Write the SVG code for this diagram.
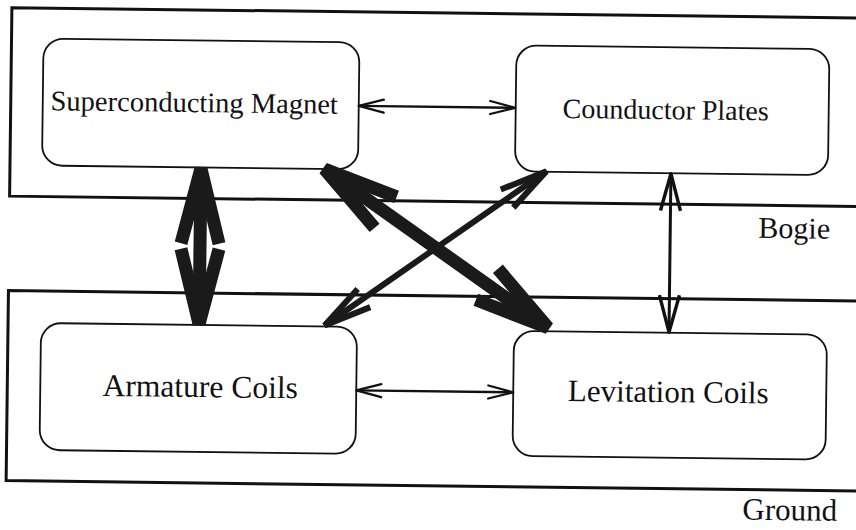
<svg xmlns="http://www.w3.org/2000/svg" width="856" height="530" viewBox="0 0 856 530">
  <style>
    .frame { fill: none; stroke: #111; stroke-width: 3; }
    .box { fill: #fff; stroke: #111; stroke-width: 1.8; }
    .label { font-family: "Liberation Serif", "Times New Roman", serif; fill: #111; text-anchor: middle; }
    .thin { stroke: #111; stroke-width: 2.3; fill: none; }
    .vert { stroke: #111; stroke-width: 3; fill: none; }
    .mid { stroke: #1a1a1a; stroke-width: 6; fill: none; }
    .thick { stroke: #1a1a1a; stroke-width: 13; fill: none; }
    .head-thin { fill: none; stroke: #111; stroke-width: 2.3; stroke-linejoin: round; stroke-linecap: round; }
    .head-vert { fill: none; stroke: #111; stroke-width: 3.4; stroke-linejoin: round; }
    .head-mid { fill: none; stroke: #1a1a1a; stroke-width: 6; stroke-linejoin: bevel; }
    .head-thick { fill: none; stroke: #1a1a1a; stroke-width: 13; stroke-linejoin: bevel; }
  </style>
  <defs>
    <marker id="arrow-thin" markerUnits="userSpaceOnUse" orient="auto-start-reverse" overflow="visible" markerWidth="1" markerHeight="1" refX="0" refY="0">
      <path class="head-thin" d="M -25 -6.5 L 0 0 L -25 6.5"/>
    </marker>
    <marker id="arrow-vert" markerUnits="userSpaceOnUse" orient="auto-start-reverse" overflow="visible" markerWidth="1" markerHeight="1" refX="0" refY="0">
      <path class="head-vert" d="M -37 -10 L 0 0 L -37 10"/>
    </marker>
    <marker id="arrow-mid" markerUnits="userSpaceOnUse" orient="auto-start-reverse" overflow="visible" markerWidth="1" markerHeight="1" refX="0" refY="0">
      <path class="head-mid" d="M -48 -11 L 0 0 L -48 11"/>
    </marker>
    <marker id="arrow-thick" markerUnits="userSpaceOnUse" orient="auto-start-reverse" overflow="visible" markerWidth="1" markerHeight="1" refX="0" refY="0">
      <path class="head-thick" d="M -75 -19 L 0 0 L -75 19"/>
    </marker>
  </defs>
  <rect x="0" y="0" width="856" height="530" fill="#fff"/>
  <g transform="rotate(0.7)">
    <!-- vehicle and track zones -->
    <g id="bogie-zone">
      <path class="frame" d="M 880 7.5 H 12 V 196 H 880"/>
      <text class="label" x="797" y="228.5" font-size="30">Bogie</text>
    </g>
    <g id="ground-zone">
      <path class="frame" d="M 880 290.5 H 12 V 480.5 H 880"/>
      <text class="label" x="796" y="510.5" font-size="31">Ground</text>
    </g>

    <!-- components -->
    <g id="superconducting-magnet">
      <rect class="box" x="44" y="38" width="316" height="127" rx="20"/>
      <text class="label" x="195.5" y="109.6" font-size="28.5">Superconducting Magnet</text>
    </g>
    <g id="conductor-plates">
      <rect class="box" x="517" y="39" width="313" height="126" rx="20"/>
      <text class="label" x="667" y="111" font-size="28">Counductor Plates</text>
    </g>
    <g id="armature-coils">
      <rect class="box" x="45" y="322.5" width="316" height="127" rx="20"/>
      <text class="label" x="205" y="394.6" font-size="31.5">Armature Coils</text>
    </g>
    <g id="levitation-coils">
      <rect class="box" x="518" y="324.5" width="313" height="125" rx="20"/>
      <text class="label" x="673" y="394" font-size="31">Levitation Coils</text>
    </g>

    <!-- interactions -->
    <g id="connectors">
      <line class="thin" x1="360" y1="101.5" x2="516.5" y2="101.5" marker-start="url(#arrow-thin)" marker-end="url(#arrow-thin)"/>
      <line class="thin" x1="361" y1="386" x2="518" y2="386" marker-start="url(#arrow-thin)" marker-end="url(#arrow-thin)"/>
      <line class="vert" x1="673" y1="165.5" x2="673" y2="324" marker-start="url(#arrow-vert)" marker-end="url(#arrow-vert)"/>
      <line class="thick" x1="203" y1="166" x2="203" y2="321.5" marker-start="url(#arrow-thick)" marker-end="url(#arrow-thick)"/>
      <line class="thick" x1="326.5" y1="165" x2="552" y2="321" marker-start="url(#arrow-thick)" marker-end="url(#arrow-thick)"/>
      <line class="mid" x1="548.5" y1="164.5" x2="328.5" y2="321.5" marker-start="url(#arrow-mid)" marker-end="url(#arrow-mid)"/>
    </g>
  </g>
</svg>
